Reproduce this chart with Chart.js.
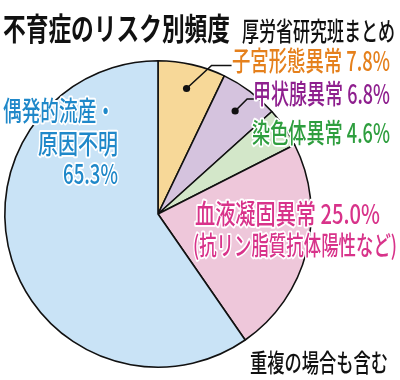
<!DOCTYPE html>
<html><head><meta charset="utf-8">
<script src="https://cdn.jsdelivr.net/npm/chart.js@4"></script>
<style>html,body{margin:0;padding:0;background:#fff}canvas{display:block}</style>
</head><body>
<canvas id="c" width="400" height="380"></canvas>
<script>
// ---- data ----
const categories = ['子宮形態異常', '甲状腺異常', '染色体異常', '血液凝固異常', '偶発的流産・原因不明'];
const percentValues = [7.8, 6.8, 4.6, 25.0, 65.3];
const valueLabels = ['7.8%', '6.8%', '4.6%', '25.0%', '65.3%'];
const fillColors = ['#F7D898', '#D5C3DE', '#D3E7C9', '#EEC7DA', '#C9E3F6'];
const textColors = ['#E5801C', '#8E1F8E', '#2E9E3E', '#D8338A', '#1F88C9'];
const titleText = '不育症のリスク別頻度';
const subtitleText = '厚労省研究班まとめ';
const subNoteText = '(抗リン脂質抗体陽性など)';
const footnoteText = '重複の場合も含む';

const FONT = '"Noto Sans CJK JP","Noto Sans CJK SC",sans-serif';

function fitText(ctx, str, x, yMid, o) {
  ctx.save();
  ctx.font = (o.weight || 'normal') + ' ' + o.size + 'px ' + FONT;
  ctx.textBaseline = 'middle';
  ctx.textAlign = 'left';
  const w = ctx.measureText(str).width;
  const sx = o.width / w;
  const left = o.align === 'right' ? x - o.width : x;
  ctx.translate(left, yMid);
  ctx.scale(sx, 1);
  if (o.halo) {
    ctx.lineJoin = 'round';
    ctx.strokeStyle = '#fff';
    ctx.lineWidth = o.halo;
    ctx.strokeText(str, 0, 0);
  }
  ctx.fillStyle = o.color;
  ctx.fillText(str, 0, 0);
  ctx.restore();
}

const blueParts = categories[4].split('・');

const labelPlugin = {
  id: 'labels',
  afterDatasetsDraw(chart) {
    const ctx = chart.ctx;
    const arcs = chart.getDatasetMeta(0).data;
    const leaders = [
      { i: 0, r: 0.84, dx: 25, dy: -23, len: 20 },
      { i: 1, r: 0.84, dx: 12, dy: -12, len: 8 }
    ];
    ctx.save();
    leaders.forEach(l => {
      const a = arcs[l.i];
      const mid = (a.startAngle + a.endAngle) / 2;
      const px = a.x + Math.cos(mid) * a.outerRadius * l.r;
      const py = a.y + Math.sin(mid) * a.outerRadius * l.r;
      ctx.strokeStyle = '#111';
      ctx.lineWidth = 1.6;
      ctx.beginPath();
      ctx.moveTo(px, py);
      ctx.lineTo(px + l.dx, py + l.dy);
      ctx.lineTo(px + l.dx + l.len, py + l.dy);
      ctx.stroke();
      ctx.fillStyle = '#111';
      ctx.beginPath();
      ctx.arc(px, py, 3.6, 0, Math.PI * 2);
      ctx.fill();
    });
    ctx.restore();

    fitText(ctx, titleText, 3, 28, { size: 31, width: 227, weight: 'bold', color: '#111' });
    fitText(ctx, subtitleText, 242, 31, { size: 26, width: 153, weight: 500, color: '#111' });
    fitText(ctx, categories[0] + ' ' + valueLabels[0], 232, 61, { size: 27, width: 158, weight: 500, color: textColors[0], halo: 4 });
    fitText(ctx, categories[1] + ' ' + valueLabels[1], 253, 94, { size: 27, width: 137, weight: 500, color: textColors[1], halo: 4 });
    fitText(ctx, categories[2] + ' ' + valueLabels[2], 252, 133, { size: 27, width: 138, weight: 500, color: textColors[2], halo: 4 });
    fitText(ctx, categories[3] + ' ' + valueLabels[3], 195, 214, { size: 27, width: 185, weight: 500, color: textColors[3], halo: 4 });
    fitText(ctx, subNoteText, 193, 245, { size: 26, width: 204, weight: 500, color: textColors[3], halo: 4 });
    fitText(ctx, blueParts[0] + '・', 3, 111, { size: 27, width: 112, weight: 500, color: textColors[4], halo: 4 });
    fitText(ctx, blueParts[1], 118, 144, { size: 27, width: 80, weight: 500, align: 'right', color: textColors[4], halo: 4 });
    fitText(ctx, valueLabels[4], 118, 174, { size: 27, width: 55, weight: 500, align: 'right', color: textColors[4], halo: 4 });
    fitText(ctx, footnoteText, 250, 362, { size: 25, width: 138, weight: 500, color: '#111' });
  }
};

new Chart(document.getElementById('c'), {
  type: 'pie',
  data: {
    labels: categories,
    datasets: [{
      data: percentValues,
      backgroundColor: fillColors,
      borderColor: '#111',
      borderWidth: 1.6,
      hoverOffset: 0
    }]
  },
  options: {
    responsive: false,
    animation: false,
    events: [],
    layout: { padding: { left: 4, top: 60, right: 88, bottom: 12 } },
    plugins: { legend: { display: false }, tooltip: { enabled: false }, title: { display: false } }
  },
  plugins: [labelPlugin]
});
</script>
</body></html>
